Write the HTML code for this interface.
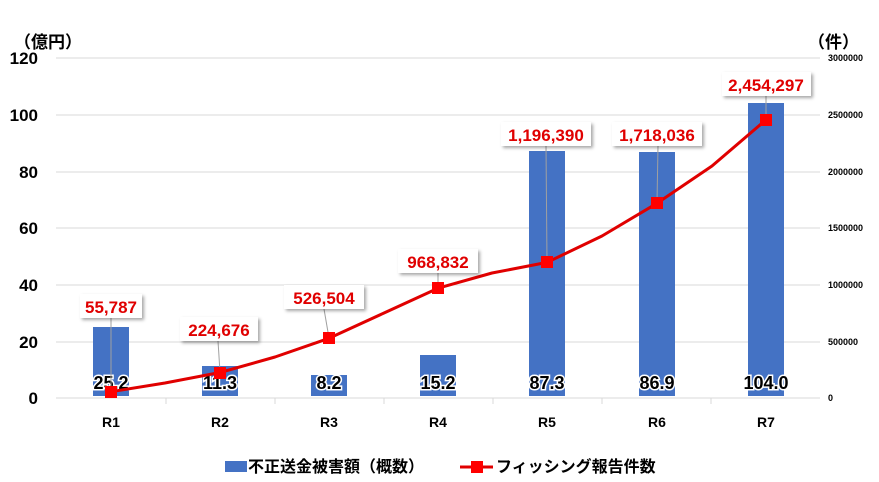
<!DOCTYPE html>
<html><head><meta charset="utf-8"><style>
body{margin:0;background:#fff}
svg{display:block;font-family:"Liberation Sans","Noto Sans CJK JP",sans-serif}
.lab{font-weight:bold;font-size:17px;fill:#e00000;text-anchor:middle}
.bl{font-weight:bold;font-size:18px;fill:#000;stroke:#fff;stroke-width:3;paint-order:stroke;text-anchor:middle}
</style></head><body>
<svg width="879" height="482" viewBox="0 0 879 482">
<defs><filter id="sh" x="-20%" y="-20%" width="150%" height="160%"><feDropShadow dx="2" dy="2" stdDeviation="1.5" flood-color="#000" flood-opacity="0.35"/></filter></defs>
<g stroke="#d9d9d9" stroke-width="1">
<line x1="56" x2="820" y1="58" y2="58"/><line x1="56" x2="820" y1="115" y2="115"/>
<line x1="56" x2="820" y1="172" y2="172"/><line x1="56" x2="820" y1="228" y2="228"/>
<line x1="56" x2="820" y1="285" y2="285"/><line x1="56" x2="820" y1="342" y2="342"/>
<line x1="56" x2="820" y1="398" y2="398"/>
<line x1="166" x2="166" y1="398" y2="404"/><line x1="275" x2="275" y1="398" y2="404"/>
<line x1="384" x2="384" y1="398" y2="404"/><line x1="493" x2="493" y1="398" y2="404"/>
<line x1="602" x2="602" y1="398" y2="404"/><line x1="711" x2="711" y1="398" y2="404"/>
</g>
<g font-weight="bold" font-size="17" fill="#000" text-anchor="end">
<text x="38" y="64">120</text><text x="38" y="121">100</text><text x="38" y="178">80</text>
<text x="38" y="234">60</text><text x="38" y="291">40</text><text x="38" y="348">20</text><text x="38" y="404">0</text>
</g>
<text x="14" y="48" font-size="17" font-weight="bold">（億円）</text>
<text x="808" y="48" font-size="17" font-weight="bold">（件）</text>
<g font-weight="bold" font-size="9" fill="#000">
<text x="828" y="61">3000000</text><text x="828" y="118">2500000</text><text x="828" y="175">2000000</text>
<text x="828" y="231">1500000</text><text x="828" y="288">1000000</text><text x="828" y="345">500000</text><text x="828" y="401">0</text>
</g>
<g fill="#4472C4">
<rect x="93" y="327" width="36" height="69"/><rect x="202" y="366" width="36" height="30"/>
<rect x="311" y="375" width="36" height="21"/><rect x="420" y="355" width="36" height="41"/>
<rect x="529" y="151" width="36" height="245"/><rect x="639" y="152" width="36" height="244"/>
<rect x="748" y="103" width="36" height="293"/>
</g>
<g class="bl">
<text x="111" y="389">25.2</text><text x="220" y="389">11.3</text><text x="329" y="389">8.2</text>
<text x="438" y="389">15.2</text><text x="547" y="389">87.3</text><text x="657" y="389">86.9</text><text x="766" y="389">104.0</text>
</g>
<g font-weight="bold" font-size="14" text-anchor="middle">
<text x="111" y="427">R1</text><text x="220" y="427">R2</text><text x="329" y="427">R3</text><text x="438" y="427">R4</text>
<text x="547" y="427">R5</text><text x="657" y="427">R6</text><text x="766" y="427">R7</text>
</g>
<g stroke="#a0a0a0" stroke-width="1">
<line x1="111" y1="318" x2="111" y2="391"/><line x1="218" y1="341" x2="220" y2="372"/>
<line x1="324" y1="309" x2="329" y2="338"/><line x1="438" y1="273" x2="438" y2="288"/>
<line x1="546" y1="146" x2="547" y2="262"/><line x1="658" y1="146" x2="657" y2="203"/>
<line x1="766" y1="96" x2="766" y2="120"/>
</g>
<polyline fill="none" stroke="#e00000" stroke-width="3" stroke-linejoin="round" points="111,391.7 165,383 220,372.5 275,357 329,338.3 384,313 438,288.2 492,273 547,262.4 602,236 657,203.3 712,166 766,119.8"/>
<g fill="#ff0000">
<rect x="105" y="386" width="12" height="12"/><rect x="214" y="367" width="12" height="12"/>
<rect x="323" y="332" width="12" height="12"/><rect x="432" y="282" width="12" height="12"/>
<rect x="541" y="256" width="12" height="12"/><rect x="651" y="197" width="12" height="12"/>
<rect x="760" y="114" width="12" height="12"/>
</g>
<g fill="#fff" filter="url(#sh)">
<rect x="80" y="294" width="62" height="24"/><rect x="180" y="317" width="78" height="24"/>
<rect x="284" y="285" width="80" height="24"/><rect x="398" y="249" width="80" height="24"/>
<rect x="501" y="122" width="90" height="24"/><rect x="612" y="122" width="90" height="24"/>
<rect x="722" y="72" width="89" height="24"/>
</g>
<g class="lab">
<text x="111" y="313">55,787</text><text x="219" y="336">224,676</text><text x="324" y="304">526,504</text>
<text x="438" y="268">968,832</text><text x="546" y="141">1,196,390</text><text x="657" y="141">1,718,036</text>
<text x="766" y="91">2,454,297</text>
</g>
<rect x="225" y="461" width="22" height="11" fill="#4472C4"/>
<text x="248" y="472" font-size="16" font-weight="bold">不正送金被害額（概数）</text>
<line x1="460" x2="493" y1="467" y2="467" stroke="#e00000" stroke-width="3"/>
<rect x="471" y="461" width="12" height="12" fill="#ff0000"/>
<text x="496" y="472" font-size="16" font-weight="bold">フィッシング報告件数</text>
</svg>
</body></html>
